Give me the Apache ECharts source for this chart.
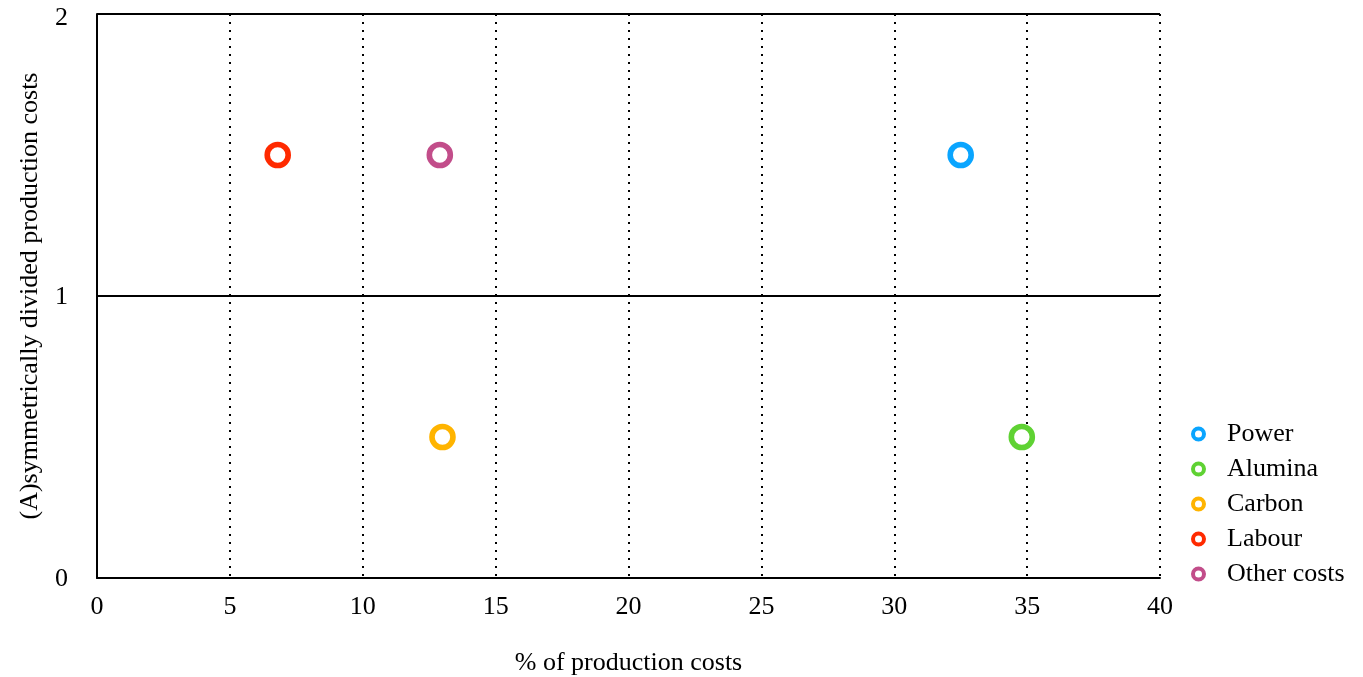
<!DOCTYPE html>
<html><head><meta charset="utf-8">
<script src="https://cdn.jsdelivr.net/npm/echarts@6/dist/echarts.min.js"></script>
<style>html,body{margin:0;padding:0;background:#fff}#c{width:1363px;height:677px}</style>
</head><body><div id="c"></div>
<script>
const names = ["Power", "Alumina", "Carbon", "Labour", "Other costs"];
const xValues = [32.5, 34.8, 13.0, 6.8, 12.9];
const yValues = [1.5, 0.5, 0.5, 1.5, 1.5];
const colors = ["#0aa5ff", "#5fd233", "#ffb400", "#ff2a00", "#c24d8a"];
const xTicks = [0, 5, 10, 15, 20, 25, 30, 35, 40];
const yTicks = [0, 1, 2];

const font = "Liberation Serif";
const fs = 26;
const chart = echarts.init(document.getElementById('c'));
chart.setOption({
  animation: false,
  grid: {left: 97, right: 203, top: 14, bottom: 99, outerBoundsMode: 'none', containLabel: false},
  legend: {
    orient: 'vertical', left: 1186, top: 416, itemGap: 9,
    itemWidth: 11, itemHeight: 11,
    textStyle: {fontFamily: font, fontSize: fs, color: '#000', padding: [0,0,0,18]},
    data: names.map((n, i) => ({name: n, icon: 'circle', itemStyle: {color: '#fff', borderColor: colors[i], borderWidth: 4}}))
  },
  xAxis: {
    type: 'value', min: xTicks[0], max: xTicks[xTicks.length-1], interval: 5,
    name: '% of production costs', nameLocation: 'middle', nameGap: 72,
    nameTextStyle: {fontFamily: font, fontSize: fs, color: '#000'},
    axisLine: {lineStyle: {color: '#000', width: 2}},
    axisTick: {show: false},
    axisLabel: {fontFamily: font, fontSize: fs, color: '#000', margin: 16},
    splitLine: {show: true, lineStyle: {color: '#000', width: 2, type: [2, 6]}}
  },
  yAxis: {
    type: 'value', min: yTicks[0], max: yTicks[yTicks.length-1], interval: 1,
    name: '(A)symmetrically divided production costs', nameLocation: 'middle', nameGap: 54,
    nameTextStyle: {fontFamily: font, fontSize: fs, color: '#000'},
    axisLine: {show: true, lineStyle: {color: '#000', width: 2}},
    axisTick: {show: false},
    axisLabel: {fontFamily: font, fontSize: fs, color: '#000', margin: 29,
      formatter: v => v === yTicks[yTicks.length-1] ? '{t|' + v + '}' : '{n|' + v + '}',
      rich: {t: {fontFamily: font, fontSize: fs, color: '#000', padding: [8, 0, 0, 0]},
             n: {fontFamily: font, fontSize: fs, color: '#000', padding: [3, 0, 0, 0]}}},
    splitLine: {show: true, lineStyle: {color: '#000', width: 2}}
  },
  series: names.map((n, i) => ({
    name: n, type: 'scatter', symbol: 'circle', symbolSize: 21,
    itemStyle: {color: '#fff', borderColor: colors[i], borderWidth: 5.6, opacity: 1},
    data: [[xValues[i], yValues[i]]]
  }))
});
</script></body></html>
